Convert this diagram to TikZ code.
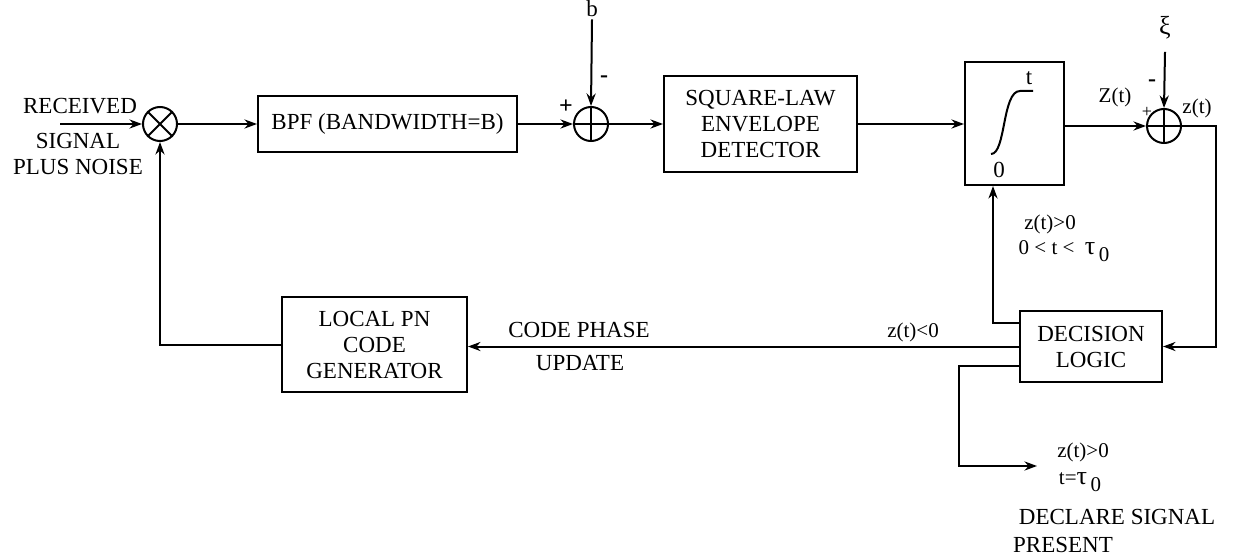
\documentclass[tikz,border=0pt]{standalone}
\usepackage{fontspec}
\setmainfont{Liberation Serif}
\usetikzlibrary{arrows.meta}

\begin{document}
\begin{tikzpicture}[x=0.5pt,y=-0.5pt,
  blk/.style={draw,line width=1pt,align=center,
              font=\fontsize{11.5}{13}\selectfont,inner sep=0pt},
  sumc/.style={draw,circle,line width=1pt,minimum size=17pt,inner sep=0pt},
  lbl/.style={font=\fontsize{10.5}{12}\selectfont,inner sep=1pt},
  sgn/.style={font=\fontsize{12}{12}\selectfont\bfseries,inner sep=1pt},
  txt/.style={font=\fontsize{11.5}{13}\selectfont,inner sep=1pt,align=center},
  arr/.style={-{Stealth[length=2.2mm,width=1.6mm]},line width=1pt}]
  \useasboundingbox (0,0) rectangle (1241,556);
  \node[sumc] (mult) at (160,124) {};
  \node[blk,minimum width=129.5pt,minimum height=28pt] (bpf) at (387.5,124)
       {BPF (BANDWIDTH=B)};
  \node[sumc] (sum1) at (591,124) {};
  \node[blk,minimum width=96.5pt,minimum height=47.5pt] (sql) at (760.5,124)
       {SQUARE-LAW\\ENVELOPE\\DETECTOR};
  \node[blk,minimum width=49.5pt,minimum height=61.5pt] (integ) at (1014.5,123.5) {};
  \node[sumc] (sum2) at (1164,126) {};
  \node[blk,minimum width=71pt,minimum height=35.5pt] (dec) at (1091,346.5)
       {DECISION\\LOGIC};
  \node[blk,minimum width=92.5pt,minimum height=47.5pt] (pn) at (374.5,344.5)
       {LOCAL PN\\CODE\\GENERATOR};
  \draw[line width=1pt] (mult.north west) -- (mult.south east)
       (mult.north east) -- (mult.south west);
  \draw[line width=1pt] (sum1.north) -- (sum1.south) (sum1.west) -- (sum1.east);
  \draw[line width=1pt] (sum2.north) -- (sum2.south) (sum2.west) -- (sum2.east);
  \draw[line width=1pt] (991,154) .. controls (1006,154) and (1002,91) .. (1020,91)
       -- (1033,91);
  \node[txt] (intt) at (1029,78) {t};
  \node[txt] (int0) at (999,170) {0};
  \node[txt] (rcv) at (80,106) {RECEIVED};
  \node[txt] (sig) at (78,154) {SIGNAL\\PLUS NOISE};
  \node[txt] (bval) at (592,9) {b};
  \node[sgn] (pl1) at (566,107) {+};
  \node[sgn] (mi1) at (604,79) {-};
  \node[txt,font=\fontsize{13}{13}\selectfont] (xi) at (1165,28) {ξ};
  \node[sgn] (mi2) at (1152,83) {-};
  \node[sgn,font=\fontsize{9}{9}\selectfont] (pl2) at (1147,112) {+};
  \node[lbl] (Zt) at (1115,97) {Z(t)};
  \node[lbl] (zt) at (1197,108) {z(t)};
  \node[lbl] (cpos) at (1050,224) {z(t)>0};
  \node[lbl] (crange) at (1064,251)
       {0 < t <\ \ {\fontsize{13}{13}\selectfont τ}\,\raisebox{-0.8ex}{0}};
  \node[lbl] (cneg) at (913,332) {z(t)<0};
  \node[txt] (cph) at (579,330) {CODE PHASE};
  \node[txt] (upd) at (580,363) {UPDATE};
  \node[lbl] (dpos) at (1083,452) {z(t)>0};
  \node[lbl] (dtau) at (1080,482)
       {t={\fontsize{13}{13}\selectfont τ}\,\raisebox{-0.8ex}{0}};
  \node[txt] (decl) at (1117,517) {DECLARE SIGNAL};
  \node[txt] (pres) at (1063,545) {PRESENT};
  \coordinate (in) at (60,124);
  \coordinate (dpres) at (1037,466);
  \draw[arr] (in) -- (mult.west);
  \draw[arr] (mult.east) -- (bpf.west);
  \draw[arr] (bpf.east) -- (sum1.west);
  \draw[arr] (bval.south) -- (sum1.north);
  \draw[arr] (sum1.east) -- (sql.west);
  \draw[arr] (sql.east) -- (sql.east -| integ.west);
  \draw[arr] (integ.east |- sum2) -- (sum2.west);
  \draw[arr] ([yshift=-5pt]xi.south) -- (sum2.north);
  \draw[arr] (sum2.east) -- ++(34,0) |- (dec.east);
  \draw[arr] ([yshift=11.75pt]dec.west) -| ([xshift=-10.75pt]integ.south);
  \draw[arr] (dec.west) -- (dec.west -| pn.east);
  \draw[arr] (pn.west) -| (mult.south);
  \draw[arr] ([yshift=-9.5pt]dec.west) -- ++(-60,0) |- (dpres);
\end{tikzpicture}
\end{document}
